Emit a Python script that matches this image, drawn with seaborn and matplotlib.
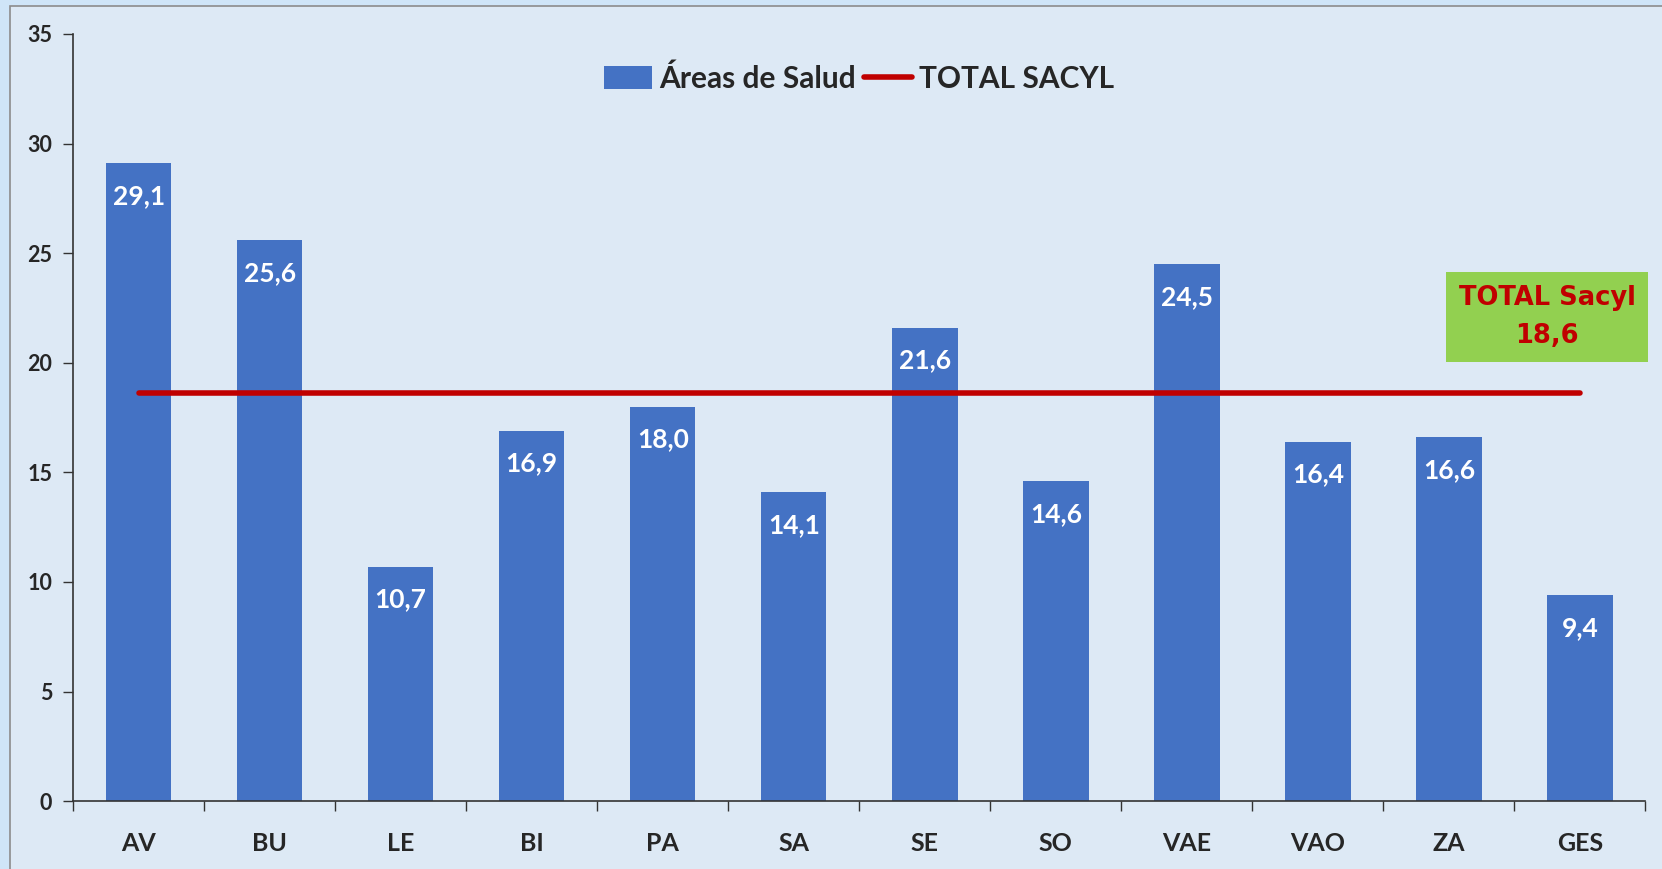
import numpy as np
import pandas as pd
import seaborn as sns
import matplotlib.pyplot as plt
from matplotlib.patches import Rectangle

areas = ['AV', 'BU', 'LE', 'BI', 'PA', 'SA', 'SE', 'SO', 'VAE', 'VAO', 'ZA', 'GES']
valores = [29.1, 25.6, 10.7, 16.9, 18.0, 14.1, 21.6, 14.6, 24.5, 16.4, 16.6, 9.4]
total_sacyl = 18.6

bg = '#DDE9F5'
bar_col = '#4472C4'
red = '#C00000'

sns.set_theme(style='white')
plt.rcParams['font.family'] = ['Lato', 'DejaVu Sans']

df = pd.DataFrame({'area': areas, 'valor': valores})

fig = plt.figure(figsize=(16.62, 8.69), dpi=100)
fig.patch.set_facecolor('#CFE5F8')
# panel behind the chart
fig.add_artist(Rectangle((0.006, -0.01), 1.0, 1.003, transform=fig.transFigure,
                         facecolor=bg, edgecolor='#8C8C8C', linewidth=1.2, zorder=-10))

ax = fig.add_axes([0.044, 0.078, 0.946, 0.883])
ax.set_facecolor(bg)

sns.barplot(data=df, x='area', y='valor', color=bar_col, width=0.5,
            saturation=1, ax=ax, label='Áreas de Salud', zorder=2,
            linewidth=0, edgecolor=bar_col)
ax.plot([0, len(areas) - 1], [total_sacyl, total_sacyl], color=red, lw=4,
        solid_capstyle='round', label='TOTAL SACYL', zorder=3)

# value labels inside bars
for i, v in enumerate(valores):
    ax.text(i, v - 1.5, f'{v:.1f}'.replace('.', ','), ha='center', va='center',
            color='white', fontsize=19, fontweight='bold', zorder=4)

ax.set_xlim(-0.5, len(areas) - 0.5)
ax.set_ylim(0, 35)
ax.set_yticks(range(0, 36, 5))
ax.set_yticklabels([str(t) for t in range(0, 36, 5)], fontsize=15.5, fontweight='bold')
ax.set_xticks(range(len(areas)))
ax.set_xticklabels(areas, fontsize=18, fontweight='bold')
ax.set_xticks(np.arange(-0.5, len(areas)), minor=True)
ax.tick_params(axis='x', which='major', length=0, pad=22)
ax.tick_params(axis='x', which='minor', length=7, width=1, color='#333333', direction='out', bottom=True)
ax.tick_params(axis='y', length=7, width=1, color='#333333', direction='out', left=True, pad=8)
ax.set_xlabel('')
ax.set_ylabel('')
for s in ['top', 'right']:
    ax.spines[s].set_visible(False)
for s in ['left', 'bottom']:
    ax.spines[s].set_color('#333333')
    ax.spines[s].set_linewidth(1.2)

handles, labels = ax.get_legend_handles_labels()
order = [labels.index('Áreas de Salud'), labels.index('TOTAL SACYL')]
ax.legend([handles[k] for k in order], [labels[k] for k in order],
          loc='upper center', bbox_to_anchor=(0.5, 0.995), ncol=2, frameon=False,
          prop={'size': 21.5, 'weight': 'bold'}, handlelength=1.6, handleheight=0.8,
          handletextpad=0.25, columnspacing=0.25)

ax.text(len(areas) - 1 - 0.25, 22.1, 'TOTAL Sacyl\n18,6', ha='center', va='center',
        color=red, fontsize=18.5, fontweight='bold', family=['DejaVu Sans'],
        linespacing=1.6,
        bbox=dict(boxstyle='square,pad=0.5', facecolor='#92D050', edgecolor='none'),
        zorder=5)

fig.savefig('out.png', dpi=100, facecolor=fig.get_facecolor())
